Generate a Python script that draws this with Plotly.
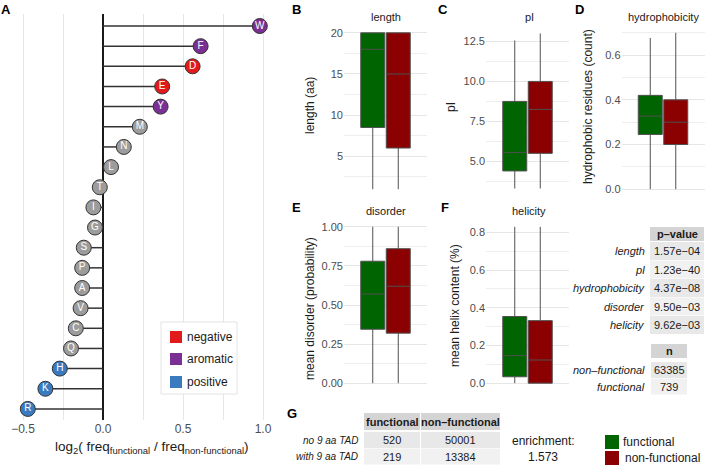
import plotly.graph_objects as go

W, H = 709, 466
FONT = "Liberation Sans, Arial, Helvetica, sans-serif"

# ---------------- data ----------------
aa_letters = ["W", "F", "D", "E", "Y", "M", "N", "L", "T", "I",
              "G", "S", "P", "A", "V", "C", "Q", "H", "K", "R"]
aa_log2_ratio = [0.98, 0.61, 0.56, 0.37, 0.36, 0.23, 0.13, 0.05, -0.02, -0.06,
                 -0.05, -0.12, -0.13, -0.13, -0.14, -0.17, -0.20, -0.27, -0.36, -0.47]
aa_group = ["aromatic", "aromatic", "negative", "negative", "aromatic", "other", "other",
            "other", "other", "other", "other", "other", "other", "other", "other",
            "other", "other", "positive", "positive", "positive"]
legend_groups = ["negative", "aromatic", "positive"]

box_groups = ["functional", "non-functional"]
# [lower whisker, q1, median, q3, upper whisker]
length_functional = [1.0, 8.5, 18.0, 20.0, 20.0]
length_nonfunctional = [1.0, 6.0, 15.0, 20.0, 20.0]
pI_functional = [3.3, 4.4, 5.56, 8.75, 12.56]
pI_nonfunctional = [3.3, 5.5, 8.25, 10.0, 13.0]
hydro_functional = [0.0, 0.245, 0.327, 0.42, 0.677]
hydro_nonfunctional = [0.0, 0.20, 0.30, 0.40, 0.70]
disorder_functional = [0.0, 0.345, 0.57, 0.78, 1.0]
disorder_nonfunctional = [0.0, 0.32, 0.62, 0.86, 1.0]
helicity_functional = [0.0, 0.034, 0.146, 0.354, 0.83]
helicity_nonfunctional = [0.0, 0.0, 0.123, 0.332, 0.83]

pvalue_labels = ["length", "pI", "hydrophobicity", "disorder", "helicity"]
pvalue_values = ["1.57e\u221204", "1.23e\u221240", "4.37e\u221208", "9.50e\u221203", "9.62e\u221203"]
n_labels = ["non\u2013functional", "functional"]
n_values = [63385, 739]
tad_rows = ["no 9 aa TAD", "with 9 aa TAD"]
tad_cols = ["functional", "non\u2013functional"]
tad_functional = [520, 219]
tad_nonfunctional = [50001, 13384]
enrichment = 1.573

# ---------------- styles ----------------
group_colors = {"negative": "#e31a1c", "aromatic": "#7b2f94",
                "positive": "#3a7bbf", "other": "#9c9c9c"}
box_colors = ["#006400", "#8b0000"]
GRID = "#e6e6e6"
GRID_MINOR = "#eeeeee"
TICK = "#4d4d4d"


def dom_x(a, b):
    return [a / W, b / W]


def dom_y(top, bottom):
    return [1 - bottom / H, 1 - top / H]


fig = go.Figure()

# ---------------- panel A ----------------
seg_x, seg_y = [], []
for i, v in enumerate(aa_log2_ratio):
    seg_x += [0, v, None]
    seg_y += [i, i, None]
fig.add_trace(go.Scatter(x=seg_x, y=seg_y, mode="lines",
                         line=dict(color="#333333", width=1.5),
                         showlegend=False, hoverinfo="skip", xaxis="x", yaxis="y"))
fig.add_trace(go.Scatter(
    x=aa_log2_ratio, y=list(range(len(aa_letters))), mode="markers+text",
    text=aa_letters, textposition="middle center",
    textfont=dict(family=FONT, size=10, color="white"),
    marker=dict(size=15, color=[group_colors[g] for g in aa_group],
                line=dict(color="#333333", width=1)),
    showlegend=False, hoverinfo="skip", xaxis="x", yaxis="y"))

layout = dict(
    width=W, height=H, margin=dict(l=0, r=0, t=0, b=0),
    paper_bgcolor="white", plot_bgcolor="white",
    font=dict(family=FONT, color="#1a1a1a"),
    showlegend=False,
    xaxis=dict(domain=dom_x(10, 275), range=[(10 - 103) / 160, (275 - 103) / 160],
               dtick=0.5, tick0=0, tickformat=".1f", showgrid=True, gridcolor=GRID,
               gridwidth=1, minor=dict(dtick=0.25, tick0=0, showgrid=True,
                                       gridcolor=GRID, gridwidth=1),
               zeroline=True, zerolinecolor="#1a1a1a", zerolinewidth=1.5,
               showline=False, ticks="", tickfont=dict(size=12, color=TICK),
               anchor="y", fixedrange=True),
    yaxis=dict(domain=dom_y(14, 420), range=[19.55, -0.596], showgrid=False,
               zeroline=False, showticklabels=False, anchor="x", fixedrange=True),
)

# ---------------- box panels ----------------
panels = [
    ("length", length_functional, length_nonfunctional, (344, 427), (25, 197), [0.05, 20.95], 5, 2.5, "d"),
    ("pI", pI_functional, pI_nonfunctional, (486, 569), (25, 197), [2.77, 13.53], 2.5, 1.25, ".1f"),
    ("hydrophobicity", hydro_functional, hydro_nonfunctional, (621.5, 704.5), (25, 197), [-0.035, 0.735], 0.2, 0.1, ".1f"),
    ("disorder", disorder_functional, disorder_nonfunctional, (344, 427), (219, 391), [-0.05, 1.05], 0.25, 0.125, ".2f"),
    ("helicity", helicity_functional, helicity_nonfunctional, (486, 569), (219, 391), [-0.0415, 0.8715], 0.2, 0.1, ".1f"),
]
unit = 25.5
for k, (name, sf, sn, (xa, xb), (yt, yb), yr, dt, mdt, fmt) in enumerate(panels):
    idx = k + 2
    xn, yn = f"x{idx}", f"y{idx}"
    half = (xb - xa) / 2 / unit
    for j, (stats, col) in enumerate(zip([sf, sn], box_colors)):
        fig.add_trace(go.Box(
            x=[j + 1], lowerfence=[stats[0]], q1=[stats[1]], median=[stats[2]],
            q3=[stats[3]], upperfence=[stats[4]], orientation="v",
            width=24 / unit, fillcolor=col, line=dict(color="#505050", width=1),
            whiskerwidth=0, boxpoints=False, name=box_groups[j],
            showlegend=False, hoverinfo="skip", xaxis=xn, yaxis=yn))
    layout[f"xaxis{idx}"] = dict(domain=dom_x(xa, xb), range=[1.5 - half, 1.5 + half],
                                 showgrid=False, zeroline=False, showticklabels=False,
                                 ticks="", anchor=yn, fixedrange=True)
    layout[f"yaxis{idx}"] = dict(domain=dom_y(yt, yb), range=yr, dtick=dt, tick0=0,
                                 tickformat=fmt, showgrid=True, gridcolor=GRID, gridwidth=1,
                                 minor=dict(dtick=mdt, tick0=0, showgrid=True,
                                            gridcolor=GRID_MINOR, gridwidth=1),
                                 zeroline=False, showline=False, ticks="", ticklen=0,
                                 tickfont=dict(size=11, color=TICK), anchor=xn,
                                 fixedrange=True)

fig.update_layout(**layout)

# ---------------- annotations & shapes ----------------
anns = []
shapes = []


def ann(text, x, y, size=11, color="#1a1a1a", xanchor="center", angle=0):
    anns.append(dict(text=text, x=x / W, y=1 - y / H, xref="paper", yref="paper",
                     xanchor=xanchor, yanchor="middle", showarrow=False,
                     font=dict(family=FONT, size=size, color=color), textangle=angle))


def rect(x0, y0, x1, y1, fill, line=None):
    shapes.append(dict(type="rect", xref="paper", yref="paper", x0=x0 / W, x1=x1 / W,
                       y0=1 - y1 / H, y1=1 - y0 / H, fillcolor=fill, layer="above",
                       line=dict(width=1 if line else 0, color=line or fill)))


# panel letters
for letter, x, y in [("A", 6, 9), ("B", 296, 10), ("C", 443, 10), ("D", 579, 10),
                     ("E", 296, 207), ("F", 445, 207), ("G", 292, 413)]:
    ann(f"<b>{letter}</b>", x, y, size=13, color="black")

# panel A axis title
ann("log<sub>2</sub>( freq<sub>functional</sub> / freq<sub>non-functional</sub>)", 152, 447,
    size=13.5, color="#1a1a1a")

# panel A legend
rect(161, 322, 237, 394, "white", "#e3e3e3")
for g, yy in zip(legend_groups, [337, 359, 382]):
    rect(170, yy - 6, 182, yy + 6, group_colors[g])
    ann(g, 185, yy, size=12, xanchor="left")

# box panel titles and y-axis titles
for (name, *_), (tx, ty) in zip(panels, [(386, 17), (529, 17), (663, 17), (386, 211), (529, 211)]):
    ann(name, tx, ty, size=11)
for text, x, y in [("length (aa)", 310, 106), ("pI", 451, 107),
                   ("hydrophobic residues (count)", 588, 107),
                   ("mean disorder (probability)", 310, 309),
                   ("mean helix content (%)", 455, 306)]:
    ann(text, x, y, size=12, angle=-90)

# p-value table
rect(650, 227, 704, 241, "#d4d4d4")
ann("<b>p\u2013value</b>", 677, 234, size=11)
row_fills = ["#e8e8e8", "#f1f1f1"]
for k, (lab, val) in enumerate(zip(pvalue_labels, pvalue_values)):
    yc = 251 + 18.5 * k
    rect(650, yc - 9, 704, yc + 9, row_fills[k % 2])
    ann(f"<i>{lab}</i>", 647, yc, size=11, xanchor="right")
    ann(val, 677, yc, size=11)

# n table
rect(651, 344, 687, 358, "#d4d4d4")
ann("<b>n</b>", 669, 351, size=11)
for k, (lab, val) in enumerate(zip(n_labels, n_values)):
    yc = 370 + 16.5 * k
    rect(651, yc - 8, 687, yc + 8, row_fills[k % 2])
    ann(f"<i>{lab}</i>", 647, yc, size=11, xanchor="right")
    ann(str(val), 669, yc, size=11)

# G table
col_spans = [(364, 420), (421, 500)]
for (a, b), lab in zip(col_spans, tad_cols):
    rect(a, 413, b, 430, "#d4d4d4")
    ann(f"<b>{lab}</b>", (a + b) / 2, 421.5, size=11)
for k, lab in enumerate(tad_rows):
    yc = 440 + 16.5 * k
    ann(f"<i>{lab}</i>", 360, yc, size=10, xanchor="right")
    for (a, b), val in zip(col_spans, [tad_functional[k], tad_nonfunctional[k]]):
        rect(a, yc - 8, b, yc + 8, row_fills[k % 2])
        ann(str(val), (a + b) / 2, yc, size=11)
ann("enrichment:", 543, 441, size=12)
ann(f"{enrichment:.3f}", 543, 457, size=12)

# box legend
for g, col, yy, tx in [(box_groups[0], box_colors[0], 442, 621), (box_groups[1], box_colors[1], 458, 623)]:
    rect(605, yy - 7, 619, yy + 7, col)
    ann(g, tx, yy, size=12, xanchor="left")

fig.update_layout(annotations=anns, shapes=shapes)
fig.write_html("out.html", config={"displayModeBar": False},
               post_script="document.body.style.margin='0px';document.body.style.overflow='hidden';")
